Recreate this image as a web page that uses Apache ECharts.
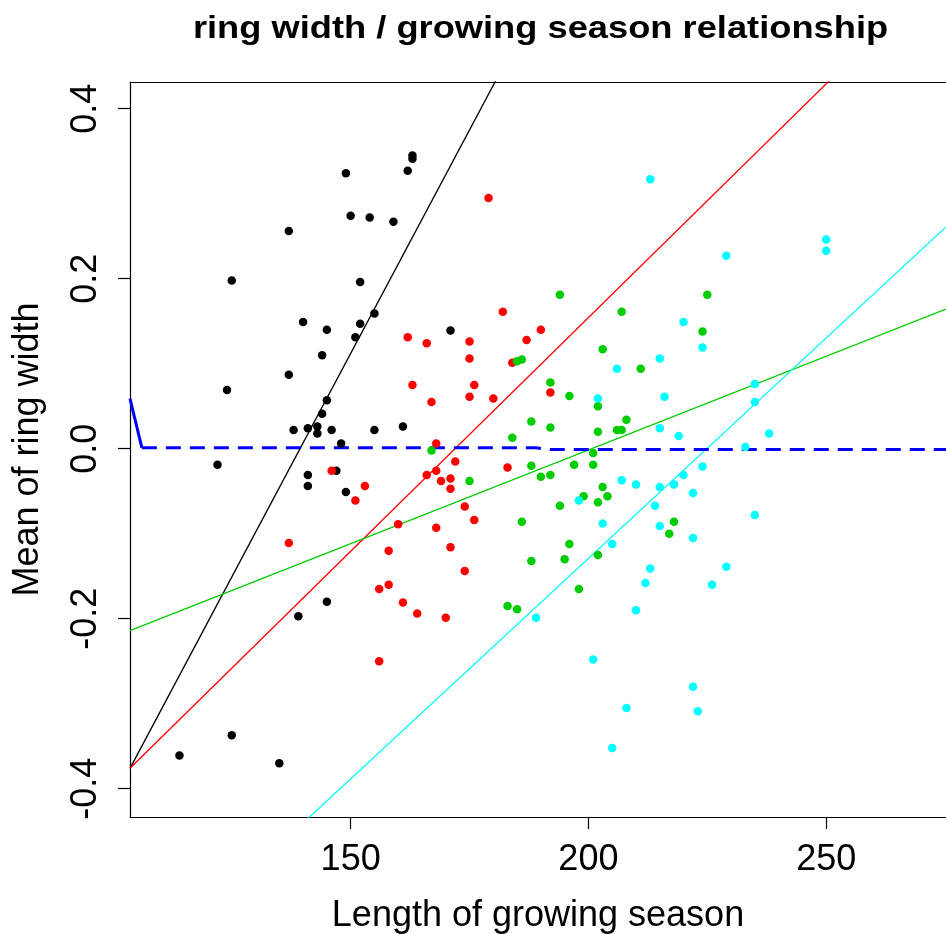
<!DOCTYPE html>
<html>
<head>
<meta charset="utf-8">
<script src="https://cdn.jsdelivr.net/npm/echarts@6/dist/echarts.min.js"></script>
<style>
  html, body { margin: 0; padding: 0; background: #fff; overflow: hidden; }
  #chart { width: 946px; height: 934px; }
</style>
</head>
<body>
<div id="chart"></div>
<script>
// ---- data ----
const xTicks = [150, 200, 250];
const yTicks = [-0.4, -0.2, 0, 0.2, 0.4];
const xRange = [103.6, 275.2];
const yRange = [-0.4333, 0.4314];

const blackPts = [[149,0.324],[162,0.327],[163,0.345],[163,0.341],[150,0.274],[154,0.272],[159,0.267],[137,0.256],
  [125,0.198],[152,0.196],[155,0.159],[140,0.149],[152,0.147],[145,0.140],[151,0.131],[171,0.139],[144,0.110],
  [137,0.087],[124,0.069],[145,0.057],[144,0.041],[138,0.022],[141,0.024],[143,0.026],[143,0.018],[146,0.022],
  [155,0.022],[161,0.026],[148,0.006],[122,-0.019],[141,-0.031],[141,-0.044],[147,-0.026],[149,-0.051],
  [145,-0.180],[139,-0.197],[125,-0.337],[114,-0.361],[135,-0.370]];

const redPts = [[179,0.295],[182,0.161],[190,0.140],[162,0.131],[166,0.124],[175,0.126],[175,0.106],[187,0.128],
  [184,0.101],[163,0.075],[176,0.075],[167,0.055],[175,0.061],[180,0.059],[192,0.066],[168,0.006],[172,-0.015],
  [183,-0.022],[166,-0.031],[168,-0.026],[169,-0.038],[171,-0.035],[171,-0.047],[174,-0.068],[176,-0.084],
  [160,-0.089],[168,-0.093],[171,-0.116],[158,-0.120],[174,-0.144],[158,-0.160],[161,-0.181],[164,-0.194],
  [170,-0.199],[146,-0.026],[153,-0.044],[151,-0.061],[137,-0.111],[156,-0.165],[156,-0.250]];

const greenPts = [[194,0.181],[207,0.161],[203,0.117],[185,0.103],[186,0.105],[211,0.094],[192,0.078],[196,0.062],
  [202,0.050],[208,0.034],[188,0.032],[192,0.025],[202,0.020],[206,0.022],[207,0.022],[184,0.013],[167,-0.002],
  [201,-0.005],[201,-0.019],[188,-0.020],[190,-0.033],[192,-0.031],[197,-0.019],[175,-0.038],[199,-0.056],
  [203,-0.045],[204,-0.056],[202,-0.063],[194,-0.067],[186,-0.086],[196,-0.112],[188,-0.132],[195,-0.130],
  [202,-0.125],[198,-0.165],[183,-0.185],[185,-0.189],[218,-0.086],[217,-0.100],[225,0.181],[224,0.138]];

const cyanPts = [[213,0.317],[250,0.246],[250,0.233],[229,0.227],[220,0.149],[224,0.119],[215,0.106],[206,0.094],
  [216,0.061],[202,0.059],[235,0.076],[235,0.055],[215,0.024],[219,0.015],[238,0.018],[233,0.002],[207,-0.037],
  [210,-0.042],[215,-0.045],[218,-0.042],[220,-0.031],[224,-0.021],[222,-0.052],[198,-0.061],[214,-0.067],
  [235,-0.078],[203,-0.088],[215,-0.091],[222,-0.105],[205,-0.112],[213,-0.141],[212,-0.158],[229,-0.139],
  [226,-0.160],[210,-0.190],[189,-0.199],[201,-0.248],[222,-0.280],[223,-0.309],[208,-0.305],[205,-0.352]];

// fitted lines: [intercept, slope]
const blackFit = [-1.466, 0.01052];
const redFit   = [-0.9458, 0.0055];
const greenFit = [-0.4424, 0.002204];
const cyanFit  = [-1.1665, 0.005187];

// smooth (blue) curve: steep start, then dashed near zero
const blueStart = [[103.6,0.059],[106.1,0.001]];
const blueCurve = [[106.1,0.001],[189,0.001],[192,-0.001],[275.2,-0.001]];

// ---- chart ----
const FONT = "'Liberation Sans', Arial, Helvetica, sans-serif";
const colors = { black:'#000000', red:'#FF0000', green:'#00CD00', cyan:'#00FFFF', blue:'#0000FF' };

function fitLine(fit) {
  return [xRange[0], xRange[1]].map(x => [x, fit[0] + fit[1] * x]);
}
function scatter(name, pts, color) {
  return { name, type:'scatter', data: pts, symbol:'circle', symbolSize: 8.5,
           itemStyle:{ color, opacity:1 }, z: 3, silent: true, animation:false };
}
function line(name, pts, color, width, type) {
  return { name, type:'line', data: pts, showSymbol:false, symbol:'none', clip:true,
           lineStyle:{ color, width, type: type || 'solid' }, z: 2, silent:true, animation:false };
}

const chart = echarts.init(document.getElementById('chart'), null, { renderer:'canvas' });
chart.setOption({
  animation: false,
  backgroundColor: '#ffffff',
  textStyle: { fontFamily: FONT },
  graphic: [{
    type:'text', x: 540.5, y: 29, scaleX: 1.17, scaleY: 1,
    style:{ text:'ring width / growing season relationship', font: "bold 31px 'Liberation Sans', Arial, sans-serif",
            fill:'#000', align:'center', verticalAlign:'middle' }
  }],
  grid: { left:130, right:0, top:82, bottom:117, containLabel:false, outerBoundsMode:'none' },
  xAxis: [{
    type:'value', min:xRange[0], max:xRange[1], position:'bottom',
    axisLine:{ show:true, onZero:false, lineStyle:{ color:'#000', width:1.2 } },
    axisTick:{ show:true, length:12, customValues:xTicks, lineStyle:{ color:'#000', width:1.2 } },
    axisLabel:{ customValues:xTicks, fontSize:36, color:'#000', margin:25, fontFamily:FONT },
    splitLine:{ show:false },
    name:'Length of growing season', nameLocation:'middle', nameGap:81,
    nameTextStyle:{ fontSize:36, color:'#000', fontFamily:FONT }
  },{
    type:'value', min:xRange[0], max:xRange[1], position:'top',
    axisLine:{ show:true, onZero:false, lineStyle:{ color:'#000', width:1.2 } },
    axisTick:{ show:false }, axisLabel:{ show:false }, splitLine:{ show:false }
  }],
  yAxis: [{
    type:'value', min:yRange[0], max:yRange[1], position:'left',
    axisLine:{ show:true, onZero:false, lineStyle:{ color:'#000', width:1.2 } },
    axisTick:{ show:true, length:12, customValues:yTicks, lineStyle:{ color:'#000', width:1.2 } },
    axisLabel:{ customValues:yTicks, rotate:90, fontSize:36, color:'#000', margin:26, fontFamily:FONT,
                formatter: v => v.toFixed(1) },
    splitLine:{ show:false },
    name:'Mean of ring width', nameLocation:'middle', nameGap:84, nameRotate:90,
    nameTextStyle:{ fontSize:36, color:'#000', fontFamily:FONT }
  }],
  series: [
    scatter('black', blackPts, colors.black),
    scatter('red', redPts, colors.red),
    scatter('green', greenPts, colors.green),
    scatter('cyan', cyanPts, colors.cyan),
    line('blackFit', fitLine(blackFit), colors.black, 1.3),
    line('redFit', fitLine(redFit), colors.red, 1.3),
    line('greenFit', fitLine(greenFit), colors.green, 1.3),
    line('cyanFit', fitLine(cyanFit), colors.cyan, 1.3),
    line('smoothStart', blueStart, colors.blue, 3),
    line('smooth', blueCurve, colors.blue, 3, [15, 9])
  ]
});
</script>
</body>
</html>
